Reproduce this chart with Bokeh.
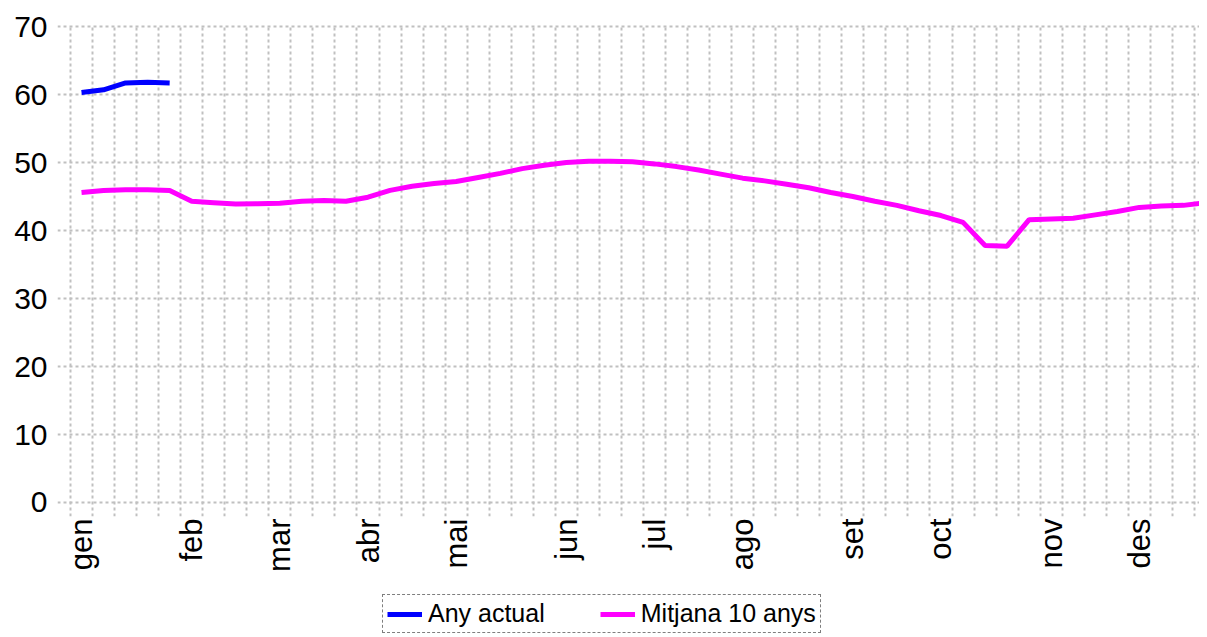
import math
from bokeh.plotting import figure
from bokeh.layouts import column
from bokeh.models import FixedTicker, Legend, LegendItem, Range1d, ColumnDataSource
from bokeh.embed import file_html
from bokeh.resources import INLINE

# ---- data ----
weeks = list(range(52))
any_actual_weeks = [0, 1, 2, 3, 4]
any_actual = [60.3, 60.7, 61.7, 61.8, 61.7]
mitjana_10_anys = [45.6, 45.9, 46.0, 46.0, 45.9, 44.3, 44.1, 43.9, 43.95, 44.0, 44.3, 44.4, 44.3,
                   44.9, 45.9, 46.5, 46.9, 47.2, 47.8, 48.4, 49.1, 49.6, 50.0, 50.2, 50.2, 50.1,
                   49.8, 49.4, 48.9, 48.3, 47.7, 47.3, 46.8, 46.3, 45.6, 45.0, 44.3, 43.7, 42.9,
                   42.2, 41.2, 37.8, 37.7, 41.6, 41.7, 41.8, 42.3, 42.8, 43.4, 43.6, 43.7, 44.1]
month_labels = ["gen", "feb", "mar", "abr", "mai", "jun", "jul", "ago", "set", "oct", "nov", "des"]
month_weeks = [0, 5, 9, 13, 17, 22, 26, 30, 35, 39, 44, 48]
y_ticks = [0, 10, 20, 30, 40, 50, 60, 70]
series_names = ["Any actual", "Mitjana 10 anys"]
series_colors = ["#0000ff", "#ff00ff"]

FONT = "Liberation Sans"

p = figure(width=1199, height=576, output_backend="svg", toolbar_location=None,
           x_range=Range1d(-1.09, 50.73), y_range=Range1d(-2.06, 70.3),
           min_border_left=57, min_border_right=0, min_border_top=24, min_border_bottom=60)
p.outline_line_color = None
p.background_fill_color = "white"

# grid
p.xgrid.ticker = FixedTicker(ticks=[w - 0.5 for w in weeks])
for g in (p.xgrid, p.ygrid):
    g.grid_line_color = "#c0c0c0"
    g.grid_line_width = 2
    g.grid_line_dash = "3 3"

# axes
p.xaxis.ticker = FixedTicker(ticks=month_weeks)
p.xaxis.major_label_overrides = {w: m for w, m in zip(month_weeks, month_labels)}
p.xaxis.major_label_orientation = math.pi / 2
p.yaxis.ticker = FixedTicker(ticks=y_ticks)
for ax in (p.xaxis, p.yaxis):
    ax.axis_line_color = None
    ax.major_tick_line_color = None
    ax.minor_tick_line_color = None
    ax.major_tick_out = 0
    ax.major_tick_in = 0
    ax.major_label_text_font = FONT
    ax.major_label_text_font_size = "30px"
    ax.major_label_text_color = "black"
p.xaxis.major_label_text_font_size = "31px"
p.xaxis.major_label_standoff = 2
p.yaxis.major_label_standoff = 10

src_a = ColumnDataSource(dict(x=any_actual_weeks, y=any_actual))
src_m = ColumnDataSource(dict(x=weeks, y=mitjana_10_anys))
p.line("x", "y", source=src_m, line_color=series_colors[1], line_width=5)
p.line("x", "y", source=src_a, line_color=series_colors[0], line_width=5)

# legend strip below the chart (its frame is aligned with the chart's frame)
pl = figure(width=1199, height=61, output_backend="svg", toolbar_location=None,
            x_range=Range1d(0, 1), y_range=Range1d(0, 1),
            x_axis_location=None, y_axis_location=None,
            min_border_left=0, min_border_right=0, min_border_top=0, min_border_bottom=0)
pl.grid.visible = False
pl.outline_line_color = None
items = []
for name, col in zip(series_names, series_colors):
    r = pl.line(x=[float("nan")], y=[float("nan")], line_color=col, line_width=5)
    items.append(LegendItem(label=name, renderers=[r]))
legend = Legend(items=items, orientation="horizontal", location=(325, 4),
                label_text_font=FONT, label_text_font_size="25px", label_text_color="black",
                glyph_width=35, glyph_height=20, label_standoff=6, spacing=55,
                padding=4, margin=0,
                border_line_color="black", border_line_dash="2 2", border_line_width=1,
                background_fill_alpha=0)
pl.add_layout(legend, "center")

layout = column(p, pl, spacing=0)
open("out.html", "w").write(file_html(layout, INLINE))
